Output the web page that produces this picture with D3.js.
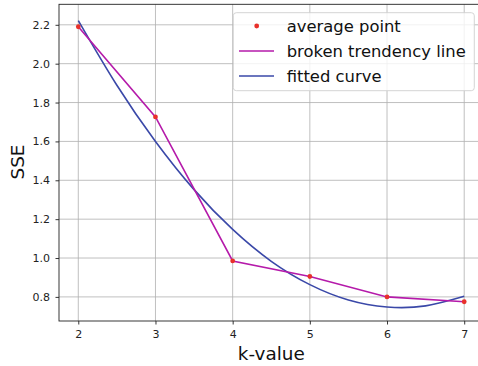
<!DOCTYPE html>
<html>
<head>
<meta charset="utf-8">
<script src="https://cdn.jsdelivr.net/npm/d3@7"></script>
<style>
  html, body { margin: 0; padding: 0; background: #fff; }
  svg { display: block; font-family: "DejaVu Sans", sans-serif; }
</style>
</head>
<body>
<svg id="chart" width="478" height="366"></svg>
<script>
// ---- data ----
const kValues = [2, 3, 4, 5, 6, 7];
const avgSSE = [2.19, 1.726, 0.985, 0.905, 0.800, 0.775];
const curveK = [2, 2.5, 3, 3.5, 4, 4.5, 5, 5.5, 6, 6.5, 7];
const curveSSE = [2.222, 1.889, 1.600, 1.352, 1.147, 0.983, 0.863, 0.784, 0.748, 0.754, 0.803];
const xTicks = [2, 3, 4, 5, 6, 7];
const yTicks = [0.8, 1.0, 1.2, 1.4, 1.6, 1.8, 2.0, 2.2];
const legendLabels = ["average point", "broken trendency line", "fitted curve"];

(function () {
// ---- layout ----
const mLeft = 59, mRight = 483.5, mTop = 4.3, mBottom = 321;
const svg = d3.select("#chart");

const x = d3.scaleLinear().domain([1.75, 7.25]).range([mLeft, mRight]);
const y = d3.scaleLinear().domain([0.676, 2.3055]).range([mBottom, mTop]);

const colRed = "#e8302a", colPurple = "#b51aaa", colBlue = "#3a48a8";

// grid
const g = svg.append("g");
g.selectAll("line.gx").data(xTicks).enter().append("line")
  .attr("x1", d => x(d)).attr("x2", d => x(d))
  .attr("y1", mTop).attr("y2", mBottom)
  .attr("stroke", "#b0b0b0").attr("stroke-width", 0.8);
g.selectAll("line.gy").data(yTicks).enter().append("line")
  .attr("x1", mLeft).attr("x2", mRight)
  .attr("y1", d => y(d)).attr("y2", d => y(d))
  .attr("stroke", "#b0b0b0").attr("stroke-width", 0.8);

// axes
const xAxis = d3.axisBottom(x).tickValues(xTicks).tickFormat(d3.format("d"))
  .tickSizeInner(3.5).tickSizeOuter(0).tickPadding(5.5);
const yAxis = d3.axisLeft(y).tickValues(yTicks).tickFormat(d3.format(".1f"))
  .tickSizeInner(3.5).tickSizeOuter(0).tickPadding(5.5);

const gx = svg.append("g").attr("transform", `translate(0,${mBottom})`).call(xAxis);
const gy = svg.append("g").attr("transform", `translate(${mLeft},0)`).call(yAxis);
[gx, gy].forEach(a => {
  a.select(".domain").remove();
  a.selectAll(".tick line").attr("stroke", "#000").attr("stroke-width", 0.8);
  a.selectAll(".tick text").attr("font-size", 11).attr("fill", "#222")
    .attr("font-family", "DejaVu Sans, sans-serif");
});

// lines
svg.append("path")
  .datum(curveK.map((k, i) => [k, curveSSE[i]]))
  .attr("d", d3.line().x(d => x(d[0])).y(d => y(d[1])).curve(d3.curveNatural))
  .attr("fill", "none").attr("stroke", colBlue).attr("stroke-width", 1.6);
svg.append("path")
  .datum(kValues.map((k, i) => [k, avgSSE[i]]))
  .attr("d", d3.line().x(d => x(d[0])).y(d => y(d[1])))
  .attr("fill", "none").attr("stroke", colPurple).attr("stroke-width", 1.6);
svg.selectAll("circle.pt").data(kValues).enter().append("circle")
  .attr("cx", d => x(d)).attr("cy", (d, i) => y(avgSSE[i]))
  .attr("r", 2.4).attr("fill", colRed);

// spines
svg.append("rect").attr("x", mLeft).attr("y", mTop)
  .attr("width", mRight - mLeft).attr("height", mBottom - mTop)
  .attr("fill", "none").attr("stroke", "#222").attr("stroke-width", 0.9);

// axis labels
svg.append("text").attr("x", (mLeft + mRight) / 2).attr("y", 360)
  .attr("text-anchor", "middle").attr("font-size", 18.4).attr("fill", "#111")
  .text("k-value");
svg.append("text").attr("transform", `translate(24,162) rotate(-90)`)
  .attr("text-anchor", "middle").attr("font-size", 18.4).attr("fill", "#111")
  .text("SSE");

// legend
const lg = svg.append("g");
lg.append("rect").attr("x", 233.3).attr("y", 12.7).attr("width", 241).attr("height", 78)
  .attr("rx", 3).attr("fill", "#fff").attr("fill-opacity", 0.8)
  .attr("stroke", "#d0d0d0").attr("stroke-width", 0.9);
const rowsY = [26, 51, 76];
lg.append("circle").attr("cx", 256.7).attr("cy", rowsY[0]).attr("r", 2.4).attr("fill", colRed);
lg.append("line").attr("x1", 239).attr("x2", 274).attr("y1", rowsY[1]).attr("y2", rowsY[1])
  .attr("stroke", colPurple).attr("stroke-width", 1.6);
lg.append("line").attr("x1", 239).attr("x2", 274).attr("y1", rowsY[2]).attr("y2", rowsY[2])
  .attr("stroke", colBlue).attr("stroke-width", 1.6);
lg.selectAll("text").data(legendLabels).enter().append("text")
  .attr("x", 286.7).attr("y", (d, i) => rowsY[i]).attr("dy", "0.35em")
  .attr("font-size", 16.4).attr("fill", "#111").text(d => d);
})();
</script>
</body>
</html>
